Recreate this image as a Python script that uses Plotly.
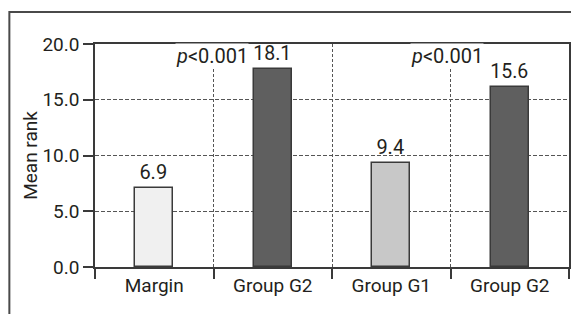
import plotly.graph_objects as go

categories = ["Margin", "Group G2", "Group G1", "Group G2"]
bar_values = [7.1, 17.8, 9.3, 16.1]
bar_labels = ["6.9", "18.1", "9.4", "15.6"]
bar_colors = ["#f0f0f0", "#5f5f5f", "#c8c8c8", "#5f5f5f"]
p_labels = ["<i>p</i><0.001", "<i>p</i><0.001"]
p_x = [0.49, 2.47]
p_y = [18.95, 18.95]
y_ticks = [0, 5, 10, 15, 20]

FONT = "Roboto, DejaVu Sans Condensed, sans-serif"
INK = "#231f20"
LINE = "#3a3a3a"
FS = 19

x_pos = list(range(len(categories)))

fig = go.Figure()
fig.add_trace(go.Bar(
    x=x_pos, y=bar_values, width=0.32,
    marker=dict(color=bar_colors, line=dict(color=LINE, width=1.5)),
    text=bar_labels, textposition="outside", cliponaxis=False,
    textfont=dict(family=FONT, size=FS + 1, color=INK),
    showlegend=False,
))

for t, xx, yy in zip(p_labels, p_x, p_y):
    fig.add_annotation(x=xx, y=yy, text=t, showarrow=False, xref="x", yref="y",
                       font=dict(family=FONT, size=FS + 1, color=INK),
                       bgcolor="white", borderpad=0, yanchor="middle")

# page body adds an 8px offset; figure sized to fit the remaining window
W, H = 571, 306
L, R, T, B = 87, 8, 36, 47
pw, ph = W - L - R, H - T - B

fx0 = (1 - L) / pw
fx1 = (W - L) / pw
fy0 = -(H - (H - B)) / ph
fy1 = ((H - B) - 4) / ph
frame = dict(color="#4a4a4a", width=2)
fig.add_shape(type="rect", xref="paper", yref="paper", x0=fx0, x1=fx1 + 0.1, y0=fy0 - 0.1, y1=fy1,
              line=frame, fillcolor="rgba(0,0,0,0)", layer="above")

fig.update_layout(
    width=W, height=H,
    margin=dict(l=L, r=R, t=T, b=B),
    paper_bgcolor="white", plot_bgcolor="white",
    font=dict(family=FONT, size=FS, color=INK),
    bargap=0,
    xaxis=dict(
        range=[-0.5, 3.5], tickmode="array", tickvals=x_pos, ticktext=categories,
        ticks="", showgrid=False, zeroline=False,
        showline=True, linecolor=LINE, linewidth=1.5, mirror=True,
        tickfont=dict(family=FONT, size=FS, color=INK),
        minor=dict(tick0=-0.5, dtick=1, ticks="outside", ticklen=10, tickcolor=LINE,
                   tickwidth=1.5, showgrid=True, gridcolor="#555555", griddash="3px,2px",
                   gridwidth=1),
    ),
    yaxis=dict(
        range=[0, 20], tickmode="array", tickvals=y_ticks, tickformat=".1f",
        ticks="outside", ticklen=10, tickcolor=LINE, tickwidth=1.5,
        showgrid=True, gridcolor="#555555", griddash="4px,2px", gridwidth=1,
        zeroline=False, showline=True, linecolor=LINE, linewidth=1.5, mirror=True,
        title=dict(text="Mean rank", font=dict(family=FONT, size=FS, color=INK), standoff=0),
        tickfont=dict(family=FONT, size=FS, color=INK),
    ),
)

fig.write_html("out.html")
